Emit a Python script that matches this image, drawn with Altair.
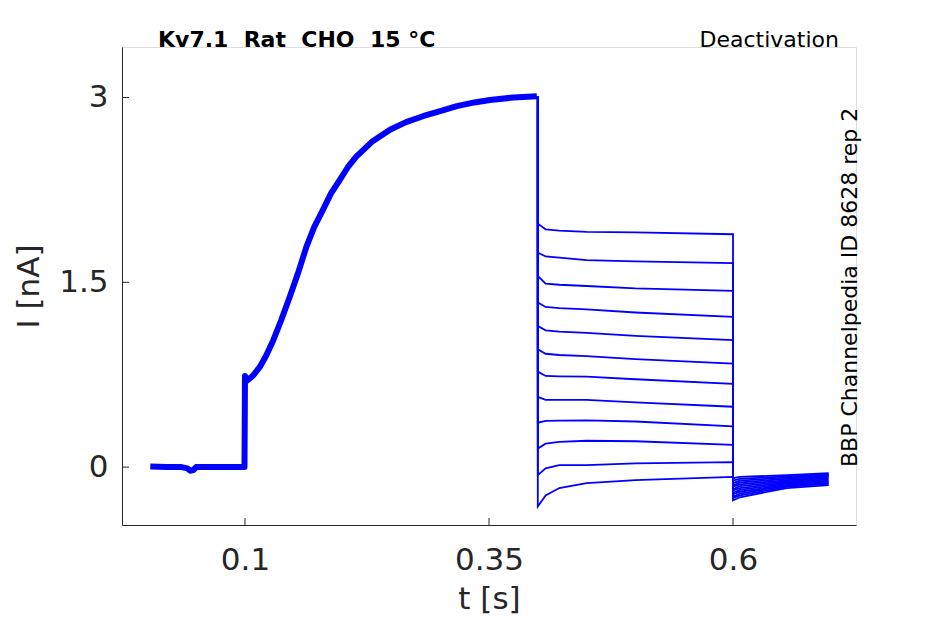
import altair as alt
import pandas as pd

# ---- data ----
# activation phase (all sweeps overlap), t in s, I in nA
t_act = [0.003, 0.02, 0.035, 0.041, 0.044, 0.047, 0.05, 0.07, 0.0995,
         0.1, 0.1017, 0.108, 0.1154, 0.122, 0.129, 0.137, 0.146, 0.155,
         0.163, 0.171, 0.180, 0.188, 0.197, 0.205, 0.214, 0.230, 0.249,
         0.265, 0.283, 0.300, 0.317, 0.335, 0.351, 0.375, 0.399]
i_act = [0.005, 0.0, 0.0, -0.01, -0.03, -0.025, 0.0, 0.0, 0.0,
         0.74, 0.70, 0.74, 0.815, 0.91, 1.03, 1.19, 1.385, 1.59,
         1.79, 1.95, 2.09, 2.22, 2.33, 2.43, 2.52, 2.64, 2.74,
         2.80, 2.85, 2.89, 2.93, 2.96, 2.98, 3.00, 3.01]

# deactivation steps (0.4 s -> 0.6 s), one row per sweep
t_deact = [0.4, 0.4, 0.408, 0.422, 0.45, 0.5, 0.6]
deact_levels = [
    [3.01, 1.976, 1.93, 1.92, 1.91, 1.905, 1.89],
    [3.01, 1.742, 1.71, 1.70, 1.68, 1.67, 1.656],
    [3.01, 1.553, 1.49, 1.48, 1.47, 1.45, 1.43],
    [3.01, 1.336, 1.30, 1.29, 1.28, 1.255, 1.22],
    [3.01, 1.146, 1.11, 1.10, 1.09, 1.065, 1.03],
    [3.01, 0.957, 0.92, 0.91, 0.90, 0.876, 0.84],
    [3.01, 0.775, 0.74, 0.737, 0.734, 0.713, 0.675],
    [3.01, 0.57, 0.545, 0.545, 0.545, 0.526, 0.49],
    [3.01, 0.36, 0.376, 0.378, 0.38, 0.37, 0.33],
    [3.01, 0.15, 0.19, 0.205, 0.214, 0.21, 0.18],
    [3.01, -0.065, -0.01, 0.016, 0.016, 0.03, 0.04],
    [3.01, -0.32, -0.23, -0.17, -0.13, -0.106, -0.08],
]

# tail after the step (0.6 s -> 0.7 s), one row per sweep
t_tail = [0.6, 0.607, 0.655, 0.698]
tail_levels = [
    [-0.27, -0.245, -0.17, -0.146],
    [-0.25, -0.23, -0.16, -0.137],
    [-0.24, -0.215, -0.152, -0.128],
    [-0.22, -0.20, -0.145, -0.12],
    [-0.21, -0.185, -0.135, -0.11],
    [-0.19, -0.17, -0.125, -0.10],
    [-0.18, -0.155, -0.115, -0.09],
    [-0.16, -0.14, -0.105, -0.08],
    [-0.15, -0.125, -0.095, -0.072],
    [-0.13, -0.11, -0.085, -0.065],
    [-0.11, -0.095, -0.075, -0.057],
    [-0.09, -0.08, -0.065, -0.05],
]

x_ticks = [0.1, 0.35, 0.6]
y_ticks = [0, 1.5, 3]

# ---- tables ----
act_df = pd.DataFrame({"t": t_act, "I": i_act, "o": range(len(t_act))})

rows = []
for k, (dl, tl) in enumerate(zip(deact_levels, tail_levels)):
    o = 0
    for t, v in zip(t_deact, dl):
        rows.append({"t": t, "I": v, "sweep": k, "o": o}); o += 1
    for t, v in zip(t_tail, tl):
        rows.append({"t": t, "I": v, "sweep": k, "o": o}); o += 1
sweep_df = pd.DataFrame(rows)

xtick_df = pd.DataFrame({"t": x_ticks})
ytick_df = pd.DataFrame({"I": y_ticks})

FONT = "DejaVu Sans"
AX = "#262626"
BLUE = "#0000FF"

xscale = alt.Scale(domain=[-0.026, 0.726], nice=False, zero=False)
yscale = alt.Scale(domain=[-0.47, 3.41], nice=False, zero=False)

x_enc = alt.X("t:Q", scale=xscale, title="t [s]",
              axis=alt.Axis(values=x_ticks, format="~g", ticks=False, grid=False,
                            labelFontSize=31, labelFont=FONT, labelColor=AX,
                            labelPadding=20, domainColor=AX, domainWidth=1,
                            titleFontSize=31, titleFont=FONT, titleColor=AX,
                            titleFontWeight="normal", titleBaseline="alphabetic",
                            titleY=83))
y_enc = alt.Y("I:Q", scale=yscale, title="I [nA]",
              axis=alt.Axis(values=y_ticks, format="~g", ticks=False, grid=False,
                            labelFontSize=31, labelFont=FONT, labelColor=AX,
                            labelPadding=14, domainColor=AX, domainWidth=1,
                            titleFontSize=31, titleFont=FONT, titleColor=AX,
                            titleFontWeight="normal", titleAngle=270,
                            titleBaseline="alphabetic", titleX=-84, titleY=239))

act = alt.Chart(act_df).mark_line(color=BLUE, strokeWidth=6, strokeJoin="round").encode(
    x=x_enc, y=y_enc, order="o:Q")

sweeps = alt.Chart(sweep_df).mark_line(color=BLUE, strokeWidth=1.8).encode(
    x=alt.X("t:Q", scale=xscale), y=alt.Y("I:Q", scale=yscale),
    detail="sweep:N", order="o:Q")

xticks = alt.Chart(xtick_df).mark_rule(color=AX, strokeWidth=1).encode(
    x=alt.X("t:Q", scale=xscale), y=alt.value(478), y2=alt.value(471))
yticks = alt.Chart(ytick_df).mark_rule(color=AX, strokeWidth=1).encode(
    y=alt.Y("I:Q", scale=yscale), x=alt.value(0), x2=alt.value(7))

NB = "\u00a0"
title_df = pd.DataFrame({"label": [f"Kv7.1 {NB}Rat {NB}CHO {NB}15 °C"]})
title_txt = alt.Chart(title_df).mark_text(
    font=FONT, fontSize=22, fontWeight="bold", color="black",
    align="left", baseline="alphabetic").encode(
    text="label:N", x=alt.value(36), y=alt.value(0))

deact_df = pd.DataFrame({"label": ["Deactivation"]})
deact_txt = alt.Chart(deact_df).mark_text(
    font=FONT, fontSize=22, color="black",
    align="right", baseline="alphabetic").encode(
    text="label:N", x=alt.value(717), y=alt.value(0))

id_df = pd.DataFrame({"label": ["BBP Channelpedia ID 8628 rep 2"]})
id_txt = alt.Chart(id_df).mark_text(
    font=FONT, fontSize=22, color="black", angle=270,
    align="left", baseline="alphabetic").encode(
    text="label:N", x=alt.value(735), y=alt.value(420))

chart = alt.layer(act, sweeps, xticks, yticks, title_txt, deact_txt, id_txt).properties(
    width=734, height=478,
    autosize=alt.AutoSizeParams(type="none"),
    padding={"left": 114, "top": 39, "right": 75, "bottom": 91},
).configure_view(stroke=None).configure(background="white")

chart.save("out.html", embed_options={"renderer": "svg", "actions": False})
